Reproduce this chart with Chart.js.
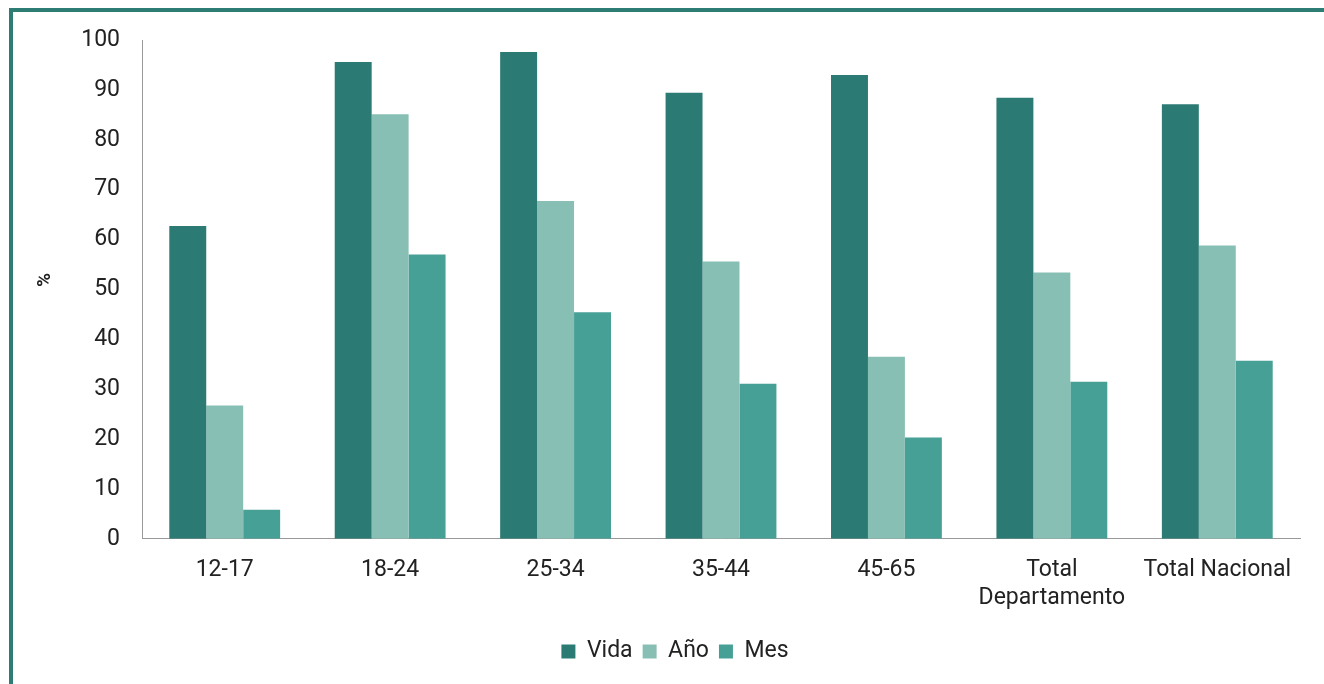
<!DOCTYPE html>
<html>
<head>
<meta charset="utf-8">
<script src="https://cdn.jsdelivr.net/npm/chart.js@4.4.0/dist/chart.umd.min.js"></script>
<style>
  html, body { margin: 0; padding: 0; background: #fff; }
  #wrap { position: relative; width: 1324px; height: 684px; }
  #frame { position: absolute; left: 9px; top: 8px; right: 0; bottom: 0;
           border-top: 4px solid #2E7D75; border-left: 4px solid #2E7D75; }
  canvas { position: absolute; left: 0; top: 0; }
</style>
</head>
<body>
<div id="wrap">
  <div id="frame"></div>
  <canvas id="myChart" width="1324" height="684"></canvas>
</div>
<script>
// data
const categories = ['12-17', '18-24', '25-34', '35-44', '45-65', ['Total', 'Departamento'], 'Total Nacional'];
const vida = [62.7, 95.6, 97.6, 89.4, 93.0, 88.4, 87.1];
const anio = [26.7, 85.1, 67.7, 55.6, 36.5, 53.4, 58.8];
const mes = [5.8, 57.0, 45.4, 31.1, 20.3, 31.5, 35.7];
const yTicks = [0, 10, 20, 30, 40, 50, 60, 70, 80, 90, 100];

const font = { family: 'Roboto', size: 23 };

const ctx = document.getElementById('myChart').getContext('2d');
const myChart = new Chart(ctx, {
    type: 'bar',
    data: {
        labels: categories,
        datasets: [
            { label: 'Vida', data: vida, backgroundColor: '#2B7A73' },
            { label: 'Año', data: anio, backgroundColor: '#88BFB4' },
            { label: 'Mes', data: mes, backgroundColor: '#46A096' }
        ]
    },
    options: {
        responsive: false,
        animation: false,
        datasets: { bar: { categoryPercentage: 0.67, barPercentage: 1.0 } },
        layout: { padding: { left: 50, right: 24, top: 40, bottom: 11 } },
        plugins: {
            tooltip: { enabled: false },
            legend: {
                position: 'bottom',
                labels: { font: font, color: '#222', boxWidth: 14, boxHeight: 14, padding: 10 }
            }
        },
        scales: {
            x: {
                grid: { display: false, drawTicks: false },
                border: { display: true, color: '#999', width: 1 },
                ticks: { font: font, color: '#222', padding: 18, maxRotation: 0, autoSkip: false }
            },
            y: {
                min: 0,
                max: 100,
                afterBuildTicks: (s) => { s.ticks = yTicks.map(v => ({ value: v })); },
                afterFit: (s) => { s.width = 92; },
                grid: { display: false, drawTicks: false },
                border: { display: true, color: '#999', width: 1 },
                ticks: { font: font, color: '#222', padding: 22 },
                title: { display: true, text: '    %', font: { family: 'Roboto', size: 19, weight: 'bold' }, color: '#222', padding: { top: -16, bottom: 0 } }
            }
        }
    }
});
</script>
</body>
</html>
